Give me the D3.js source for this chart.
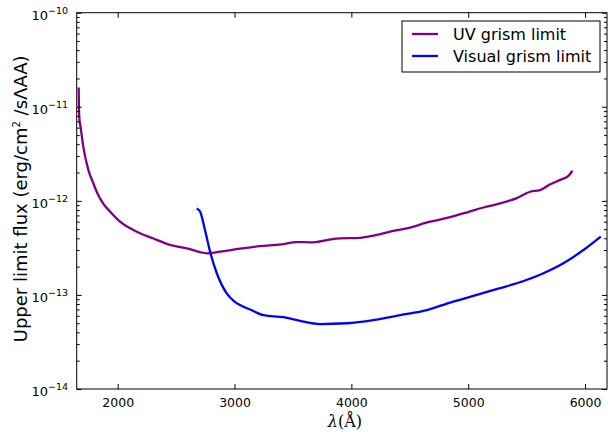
<!DOCTYPE html>
<html>
<head>
<meta charset="utf-8">
<script src="https://cdn.jsdelivr.net/npm/d3@7"></script>
<style>
  html, body { margin: 0; padding: 0; background: #fff; }
  svg { display: block; }
  text { font-family: "DejaVu Sans", sans-serif; fill: #000; }
</style>
</head>
<body>
<svg id="chart" width="608" height="432"></svg>
<script>
// ---- data ----
const uvWave = [1666, 1668, 1672, 1683, 1705, 1748, 1790, 1820, 1870, 1934, 2020, 2163, 2300, 2448, 2600, 2705, 2762, 2876, 3047, 3218, 3400, 3532, 3675, 3800, 3903, 4074, 4200, 4331, 4474, 4674, 4845, 5000, 5130, 5273, 5416, 5530, 5616, 5702, 5788, 5858, 5892];
const uvFlux = [1.6e-11, 1.0e-11, 7.5e-12, 6.0e-12, 3.8e-12, 2.15e-12, 1.55e-12, 1.25e-12, 9.6e-13, 7.7e-13, 6.0e-13, 4.7e-13, 4.0e-13, 3.4e-13, 3.1e-13, 2.85e-13, 2.77e-13, 2.88e-13, 3.1e-13, 3.3e-13, 3.45e-13, 3.65e-13, 3.62e-13, 3.85e-13, 4.0e-13, 4.05e-13, 4.3e-13, 4.7e-13, 5.1e-13, 6.0e-13, 6.7e-13, 7.6e-13, 8.5e-13, 9.4e-13, 1.07e-12, 1.25e-12, 1.3e-12, 1.5e-12, 1.67e-12, 1.84e-12, 2.09e-12];
const visWave = [2676, 2705, 2747, 2790, 2848, 2933, 3000, 3047, 3133, 3247, 3418, 3561, 3732, 3961, 4188, 4417, 4646, 4845, 5074, 5273, 5416, 5644, 5815, 5986, 6135];
const visFlux = [8.3e-13, 7.7e-13, 4.9e-13, 2.9e-13, 1.7e-13, 1.04e-13, 8.5e-14, 7.8e-14, 7.0e-14, 6.1e-14, 5.8e-14, 5.3e-14, 4.9e-14, 5.0e-14, 5.4e-14, 6.1e-14, 6.9e-14, 8.3e-14, 1.0e-13, 1.18e-13, 1.33e-13, 1.7e-13, 2.17e-13, 3.0e-13, 4.17e-13];
const seriesNames = ["UV grism limit", "Visual grism limit"];
const seriesColors = ["#800080", "#0000ff"];
const xTicks = [2000, 3000, 4000, 5000, 6000];
const yExponents = [-14, -13, -12, -11, -10];

// ---- layout ----
const svg = d3.select("#chart");
const L = 76.7, R = 607, T = 12.7, B = 389;
const x = d3.scaleLinear().domain([1649, 6188]).range([L, R]);
const y = d3.scaleLog().domain([1e-14, 1e-10]).range([B, T]);

const plot = svg.append("g");
svg.append("clipPath").attr("id", "clip").append("rect")
  .attr("x", L).attr("y", T).attr("width", R - L).attr("height", B - T);

const line = d3.line().x(d => x(d[0])).y(d => y(d[1])).curve(d3.curveMonotoneX);
const series = [
  d3.zip(uvWave, uvFlux),
  d3.zip(visWave, visFlux)
];
series.forEach((s, i) => {
  plot.append("path").datum(s)
    .attr("clip-path", "url(#clip)")
    .attr("fill", "none").attr("stroke", seriesColors[i])
    .attr("stroke-width", 2.3).attr("stroke-linejoin", "round").attr("stroke-linecap", "butt")
    .attr("d", line);
});

// ---- axes ----
const majorY = yExponents.map(e => Math.pow(10, e));
const minorY = y.ticks().filter(v => !majorY.some(m => Math.abs(m - v) / m < 1e-6));

// bottom
const gB = svg.append("g").attr("transform", `translate(0,${B})`)
  .call(d3.axisBottom(x).tickValues(xTicks).tickSizeInner(-5).tickSizeOuter(0).tickPadding(9).tickFormat(d3.format("d")));
gB.selectAll("text").style("font-size", "12.5px").attr("dy", "0.71em");
// top
const gT = svg.append("g").attr("transform", `translate(0,${T})`)
  .call(d3.axisTop(x).tickValues(xTicks).tickSizeInner(-5).tickSizeOuter(0).tickFormat(""));
// left
const gL = svg.append("g").attr("transform", `translate(${L},0)`)
  .call(d3.axisLeft(y).tickValues(majorY).tickSizeInner(-5).tickSizeOuter(0).tickFormat(""));
const gLm = svg.append("g").attr("transform", `translate(${L},0)`)
  .call(d3.axisLeft(y).tickValues(minorY).tickSizeInner(-3).tickSizeOuter(0).tickFormat(""));
// right
const gR = svg.append("g").attr("transform", `translate(${R},0)`)
  .call(d3.axisRight(y).tickValues(majorY).tickSizeInner(-5).tickSizeOuter(0).tickFormat(""));
const gRm = svg.append("g").attr("transform", `translate(${R},0)`)
  .call(d3.axisRight(y).tickValues(minorY).tickSizeInner(-3).tickSizeOuter(0).tickFormat(""));
[gB, gT, gL, gLm, gR, gRm].forEach(g => {
  g.select(".domain").remove();
  g.selectAll("line").attr("stroke", "#000").attr("stroke-width", 1);
});

// y tick labels with superscripts
yExponents.forEach(e => {
  const t = svg.append("text")
    .attr("x", 68).attr("y", y(Math.pow(10, e)) + 7)
    .attr("text-anchor", "end").style("font-size", "13px");
  t.append("tspan").text("10");
  t.append("tspan").attr("dy", -6).style("font-size", "9.5px").text("\u2212" + Math.abs(e));
});

// frame
svg.append("rect").attr("x", L).attr("y", T).attr("width", R - L).attr("height", B - T)
  .attr("fill", "none").attr("stroke", "#000").attr("stroke-width", 1);

// axis labels
const yl = svg.append("text")
  .attr("transform", `translate(27,${(T + B) / 2 - 2}) rotate(-90)`)
  .attr("text-anchor", "middle").style("font-size", "18px");
yl.append("tspan").text("Upper limit flux (erg/cm");
yl.append("tspan").attr("dy", -7).style("font-size", "10px").text("2");
yl.append("tspan").attr("dy", 7).text(" /s\u039BAA)");

const xl = svg.append("text")
  .attr("x", (L + R) / 2 + 3).attr("y", 427)
  .attr("text-anchor", "middle")
  .style("font-family", "'DejaVu Serif', serif").style("font-size", "16px");
xl.append("tspan").style("font-style", "italic").text("\u03BB");
xl.append("tspan").text("(\u00C5)");

// legend
const lg = svg.append("g");
lg.append("rect").attr("x", 402).attr("y", 21).attr("width", 198).attr("height", 51)
  .attr("fill", "#fff").attr("stroke", "#000").attr("stroke-width", 1);
seriesNames.forEach((name, i) => {
  const cy = 34 + i * 22;
  lg.append("line").attr("x1", 412).attr("x2", 438).attr("y1", cy).attr("y2", cy)
    .attr("stroke", seriesColors[i]).attr("stroke-width", 2.3);
  lg.append("text").attr("x", 453).attr("y", cy + 5.8).style("font-size", "16px").text(name);
});
</script>
</body>
</html>
